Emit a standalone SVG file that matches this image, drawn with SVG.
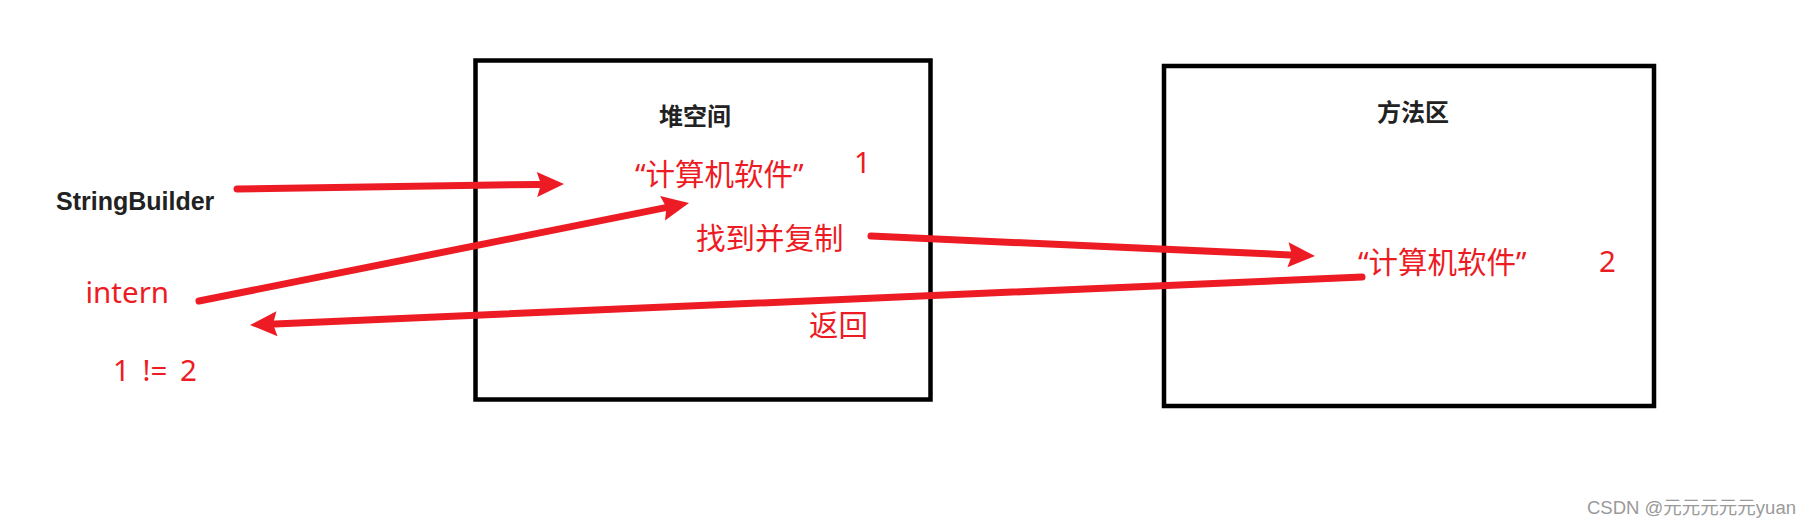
<svg xmlns="http://www.w3.org/2000/svg" width="1813" height="529" viewBox="0 0 1813 529">
  <style>
    .box { fill: none; stroke: #000; stroke-width: 4.5; }
    .title { font-family: "Noto Sans", "Noto Sans CJK SC", sans-serif; font-weight: bold; font-size: 24px; fill: #222; }
    .red { font-family: "Noto Sans", "Noto Sans CJK SC", sans-serif; font-size: 29.5px; fill: #ED1C24; }
    .dark { font-family: "Liberation Sans", Arial, sans-serif; font-weight: bold; font-size: 25px; fill: #222; }
    .wm { font-family: "Liberation Sans", "Noto Sans CJK SC", sans-serif; font-size: 18px; fill: #9a9a9a; }
    .conn { fill: none; stroke: #ED1C24; stroke-width: 7; stroke-linecap: round; }
  </style>
  <defs>
    <marker id="head" markerUnits="userSpaceOnUse" markerWidth="28" markerHeight="26" refX="2" refY="12.5" orient="auto" overflow="visible">
      <path d="M0,0 L27,12.5 L0,25 L4,12.5 Z" fill="#ED1C24"/>
    </marker>
  </defs>
  <rect width="1813" height="529" fill="#fff"/>

  <g id="heap">
    <rect class="box" x="475.5" y="60.5" width="455" height="339"/>
    <text class="title" x="659" y="125">堆空间</text>
    <text class="red" x="635" y="185">“计算机软件”</text>
    <text class="red" x="854" y="173">1</text>
    <text class="red" x="696" y="249">找到并复制</text>
    <text class="red" x="809" y="336">返回</text>
  </g>

  <g id="method-area">
    <rect class="box" x="1164" y="66" width="490" height="340"/>
    <text class="title" x="1377" y="121">方法区</text>
    <text class="red" x="1358" y="273">“计算机软件”</text>
    <text class="red" x="1599" y="272">2</text>
  </g>

  <g id="stringbuilder">
    <text class="dark" x="56" y="210">StringBuilder</text>
  </g>

  <g id="intern">
    <text class="red" x="85.5" y="303">intern</text>
  </g>

  <g id="compare">
    <text class="red" x="113" y="381" word-spacing="5">1 != 2</text>
  </g>

  <g id="connectors">
    <path class="conn" d="M237,189 L539,184.4" marker-end="url(#head)"/>
    <path class="conn" d="M199,301 L664.5,207.9" marker-end="url(#head)"/>
    <path class="conn" d="M871,236 L1290,254.9" marker-end="url(#head)"/>
    <path class="conn" d="M1362,277 L275,323.9" marker-end="url(#head)"/>
  </g>

  <g id="watermark">
    <text class="wm" x="1587" y="514" textLength="209" lengthAdjust="spacingAndGlyphs">CSDN @元元元元元yuan</text>
  </g>
</svg>
